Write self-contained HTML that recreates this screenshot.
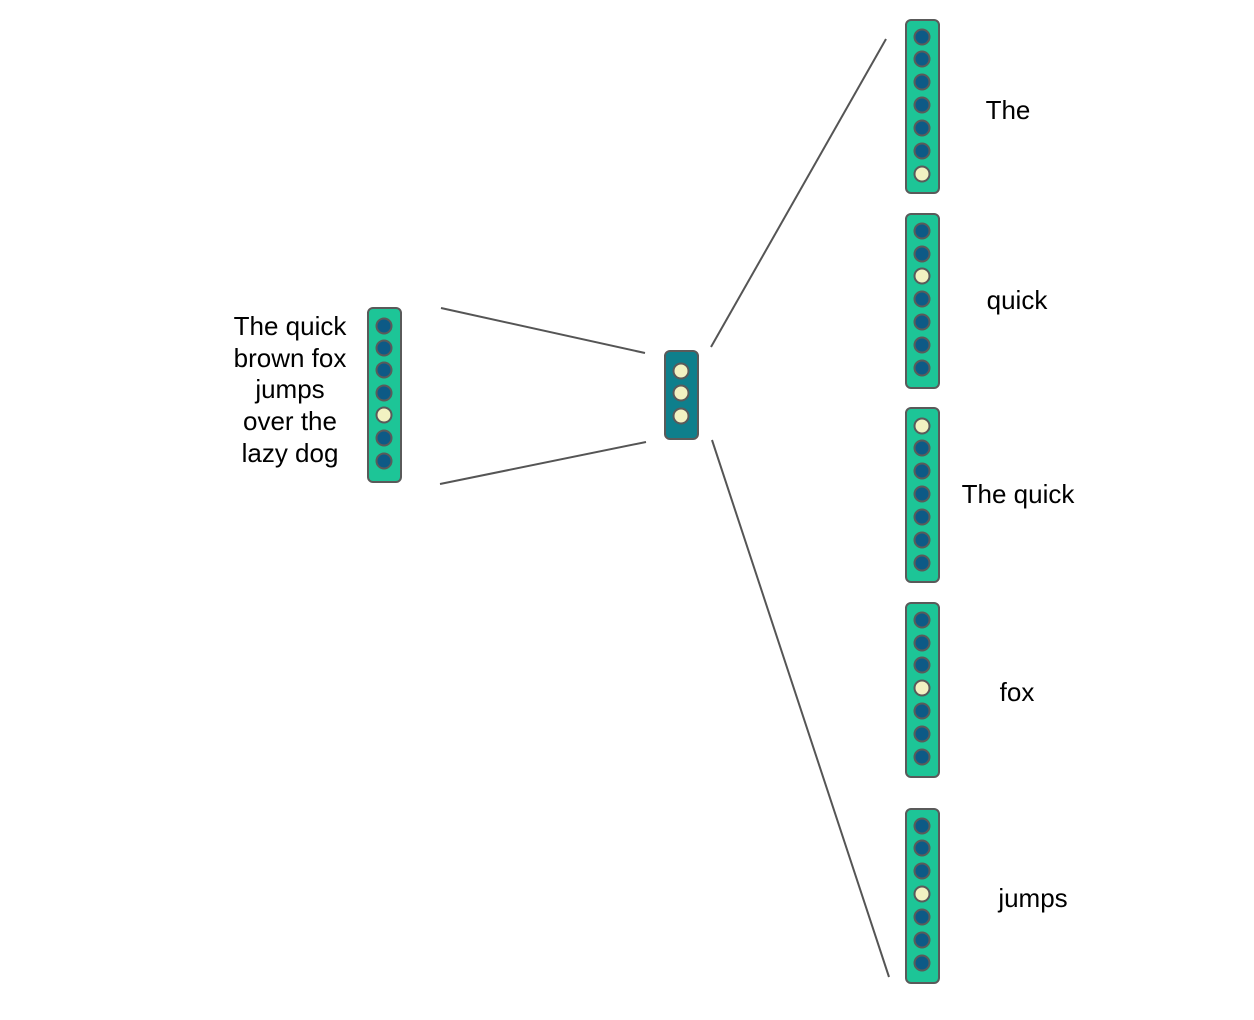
<!DOCTYPE html>
<html><head><style>html,body{margin:0;padding:0;background:#fff}svg{display:block}</style></head>
<body>
<svg width="1254" height="1020" xmlns="http://www.w3.org/2000/svg" font-family="Liberation Sans, Arial, sans-serif" font-size="26" fill="#000">
<g stroke="#555" stroke-width="2" fill="none">
<line x1="441" y1="308" x2="645" y2="353"/>
<line x1="440" y1="484" x2="646" y2="442"/>
<line x1="711" y1="347" x2="886" y2="39"/>
<line x1="712" y1="440" x2="889" y2="977"/>
</g>
<g stroke="#5a5a5a" stroke-width="2">
<rect x="368" y="308" width="33" height="174" rx="5" fill="#1dc597"/>
<rect x="665" y="351" width="33" height="88" rx="5" fill="#0e7f8c"/>
<rect x="906" y="20" width="33" height="173" rx="5" fill="#1dc597"/>
<rect x="906" y="214" width="33" height="174" rx="5" fill="#1dc597"/>
<rect x="906" y="408" width="33" height="174" rx="5" fill="#1dc597"/>
<rect x="906" y="603" width="33" height="174" rx="5" fill="#1dc597"/>
<rect x="906" y="809" width="33" height="174" rx="5" fill="#1dc597"/>
</g>
<g stroke="#5a5a5a" stroke-width="2" fill="#0d5a86">
<circle cx="384" cy="326" r="7.5"/><circle cx="384" cy="348" r="7.5"/><circle cx="384" cy="370" r="7.5"/><circle cx="384" cy="393" r="7.5"/><circle cx="384" cy="415" r="7.5" fill="#f2f2c2"/><circle cx="384" cy="438" r="7.5"/><circle cx="384" cy="461" r="7.5"/>
<circle cx="681" cy="371" r="7.5" fill="#f2f2c2"/><circle cx="681" cy="393" r="7.5" fill="#f2f2c2"/><circle cx="681" cy="416" r="7.5" fill="#f2f2c2"/>
<circle cx="922" cy="37" r="7.5"/><circle cx="922" cy="59" r="7.5"/><circle cx="922" cy="82" r="7.5"/><circle cx="922" cy="105" r="7.5"/><circle cx="922" cy="128" r="7.5"/><circle cx="922" cy="151" r="7.5"/><circle cx="922" cy="174" r="7.5" fill="#f2f2c2"/>
<circle cx="922" cy="231" r="7.5"/><circle cx="922" cy="254" r="7.5"/><circle cx="922" cy="276" r="7.5" fill="#f2f2c2"/><circle cx="922" cy="299" r="7.5"/><circle cx="922" cy="322" r="7.5"/><circle cx="922" cy="345" r="7.5"/><circle cx="922" cy="368" r="7.5"/>
<circle cx="922" cy="426" r="7.5" fill="#f2f2c2"/><circle cx="922" cy="448" r="7.5"/><circle cx="922" cy="471" r="7.5"/><circle cx="922" cy="494" r="7.5"/><circle cx="922" cy="517" r="7.5"/><circle cx="922" cy="540" r="7.5"/><circle cx="922" cy="563" r="7.5"/>
<circle cx="922" cy="620" r="7.5"/><circle cx="922" cy="643" r="7.5"/><circle cx="922" cy="665" r="7.5"/><circle cx="922" cy="688" r="7.5" fill="#f2f2c2"/><circle cx="922" cy="711" r="7.5"/><circle cx="922" cy="734" r="7.5"/><circle cx="922" cy="757" r="7.5"/>
<circle cx="922" cy="826" r="7.5"/><circle cx="922" cy="848" r="7.5"/><circle cx="922" cy="871" r="7.5"/><circle cx="922" cy="894" r="7.5" fill="#f2f2c2"/><circle cx="922" cy="917" r="7.5"/><circle cx="922" cy="940" r="7.5"/><circle cx="922" cy="963" r="7.5"/>
</g>
<g text-anchor="middle">
<text x="290" y="335">The quick</text>
<text x="290" y="367">brown fox</text>
<text x="290" y="398">jumps</text>
<text x="290" y="430">over the</text>
<text x="290" y="462">lazy dog</text>
<text x="1008" y="119">The</text>
<text x="1017" y="309">quick</text>
<text x="1018" y="503">The quick</text>
<text x="1017" y="701">fox</text>
<text x="1033" y="907">jumps</text>
</g>
</svg>
</body></html>
